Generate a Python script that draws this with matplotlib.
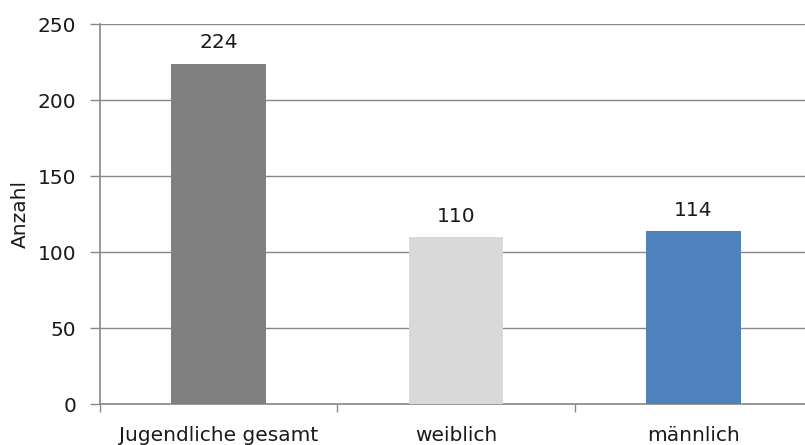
import matplotlib
matplotlib.use("Agg")
import matplotlib.pyplot as plt
from matplotlib.ticker import FixedLocator

categories = ["Jugendliche gesamt", "weiblich", "männlich"]
values = [224, 110, 114]
colors = ["#808080", "#d9d9d9", "#4f81bd"]
yticks = [0, 50, 100, 150, 200, 250]

plt.rcParams['font.family'] = ['DejaVu Sans']
FS = 14.5
fig = plt.figure(figsize=(8.05, 4.45), dpi=100)
ax = fig.add_axes([100/805, 41/445, 712/805, 380/445])

x = list(range(len(categories)))
bars = ax.bar(x, values, width=0.4, color=colors, zorder=3)
for xi, v in zip(x, values):
    ax.text(xi, v + 10, str(v), ha="center", va="baseline", fontsize=FS, color="#1a1a1a")

ax.set_xlim(-0.5, len(categories) - 0.5)
ax.set_ylim(0, 250)
ax.set_yticks(yticks)
ax.set_xticks(x)
ax.set_xticklabels(categories, fontsize=FS, color="#1a1a1a")
ax.xaxis.set_minor_locator(FixedLocator([i - 0.5 for i in range(len(categories) + 1)]))
ax.tick_params(axis="x", which="major", length=0, pad=16)
ax.tick_params(axis="x", which="minor", length=6, color="#888888", width=1)
ax.tick_params(axis="y", length=7, color="#888888", width=1, labelsize=FS, pad=10,
               labelcolor="#1a1a1a")
ax.set_ylabel("Anzahl", fontsize=FS, labelpad=6, color="#1a1a1a")

ax.grid(axis="y", color="#888888", linewidth=1, zorder=0)
for s in ["top", "right"]:
    ax.spines[s].set_visible(False)
for s in ["left", "bottom"]:
    ax.spines[s].set_color("#888888")
    ax.spines[s].set_linewidth(1.2)

fig.savefig("out.png", dpi=100)
